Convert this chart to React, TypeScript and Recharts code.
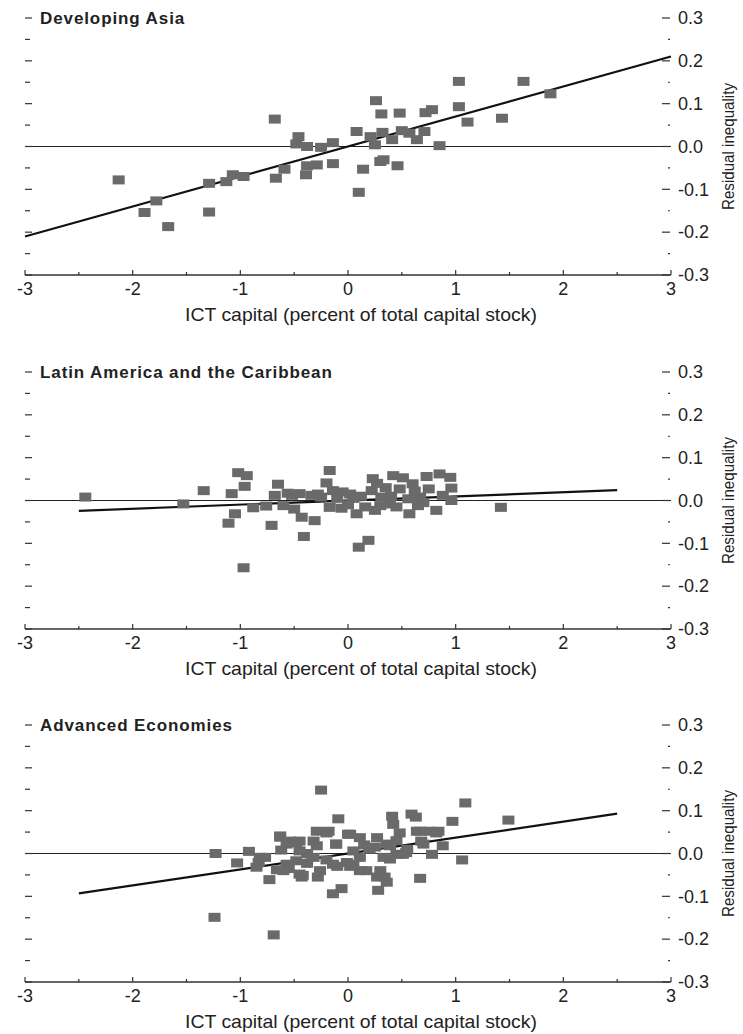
import React from 'react';
import { ScatterChart, Scatter, XAxis, YAxis, ReferenceLine } from 'recharts';

const FONT = '"Liberation Sans", Arial, sans-serif';

const PLOT_LEFT = 25;

const xTicks = [-3, -2.5, -2, -1.5, -1, -0.5, 0, 0.5, 1, 1.5, 2, 2.5, 3];
const yTicks = [-0.3, -0.25, -0.2, -0.15, -0.1, -0.05, 0, 0.05, 0.1, 0.15, 0.2, 0.25, 0.3];

const xLabel = 'ICT capital (percent of total capital stock)';
const yLabel = 'Residual inequality';

// Developing Asia
const asiaPoints: [number, number][] = [
  [-2.13, -0.078], [-1.89, -0.154], [-1.78, -0.127], [-1.67, -0.187], [-1.29, -0.153],
  [-1.29, -0.086], [-1.13, -0.082], [-1.07, -0.066], [-0.97, -0.07], [-0.68, 0.064],
  [-0.67, -0.074], [-0.59, -0.053], [-0.46, 0.023], [-0.48, 0.006], [-0.38, 0.0],
  [-0.38, -0.045], [-0.39, -0.066], [-0.29, -0.043], [-0.25, -0.002], [-0.14, 0.009],
  [-0.14, -0.04], [0.08, 0.035], [0.14, -0.053], [0.1, -0.107], [0.26, 0.107],
  [0.31, 0.076], [0.21, 0.023], [0.25, 0.004], [0.32, 0.033], [0.3, -0.035],
  [0.33, -0.031], [0.41, 0.016], [0.48, 0.078], [0.46, -0.045], [0.5, 0.037],
  [0.57, 0.031], [0.64, 0.016], [0.71, 0.035], [0.72, 0.079], [0.78, 0.086],
  [0.85, 0.002], [1.03, 0.152], [1.03, 0.093], [1.11, 0.057], [1.43, 0.066],
  [1.63, 0.152], [1.88, 0.123],
];
const asiaFit = [{ x: -3, y: -0.21 }, { x: 3, y: 0.21 }];

// Latin America and the Caribbean
const latamPoints: [number, number][] = [
  [-2.44, 0.008], [-1.53, -0.008], [-1.34, 0.023], [-1.02, 0.065], [-0.94, 0.058],
  [-0.96, 0.033], [-1.08, 0.016], [-1.05, -0.031], [-1.11, -0.053], [-0.97, -0.157],
  [-0.88, -0.017], [-0.76, -0.013], [-0.71, -0.058], [-0.65, 0.038], [-0.68, 0.012],
  [-0.6, -0.012], [-0.56, 0.017], [-0.45, 0.016], [-0.43, -0.039], [-0.41, -0.084],
  [-0.31, -0.047], [-0.34, 0.012], [-0.17, 0.07], [-0.2, 0.041], [-0.25, 0.008],
  [-0.14, 0.023], [-0.17, -0.016], [-0.06, -0.018], [0.02, 0.015], [0.08, -0.031],
  [0.1, -0.109], [0.19, -0.093], [0.23, 0.051], [0.22, 0.023], [0.25, -0.023],
  [0.31, 0.008], [0.42, 0.058], [0.51, 0.053], [0.48, 0.027], [0.39, -0.008],
  [0.57, -0.031], [0.6, 0.039], [0.67, 0.008], [0.73, 0.056], [0.85, 0.062],
  [0.95, 0.054], [0.96, 0.029], [0.96, 0.0], [0.82, -0.023], [0.75, 0.027],
  [0.56, 0.004], [1.42, -0.016], [-0.1, 0.005], [0.12, 0.01], [0.35, 0.03],
  [0.3, -0.012], [0.45, -0.015], [0.65, -0.012], [-0.5, -0.02], [0.0, -0.01],
  [-0.52, 0.012], [-0.28, 0.015], [0.05, 0.005], [0.16, -0.015], [0.4, 0.01],
  [0.7, -0.005], [0.88, 0.012], [-0.05, 0.02], [0.27, 0.04], [0.62, 0.022],
];
const latamFit = [{ x: -2.5, y: -0.024 }, { x: 2.5, y: 0.024 }];

// Advanced Economies
const advancedPoints: [number, number][] = [
  [-1.23, 0.0], [-1.24, -0.149], [-1.03, -0.022], [-0.92, 0.005], [-0.83, -0.021],
  [-0.77, -0.009], [-0.73, -0.061], [-0.69, -0.19], [-0.63, 0.038], [-0.62, 0.008],
  [-0.66, -0.038], [-0.57, -0.025], [-0.54, 0.029], [-0.48, 0.025], [-0.45, 0.006],
  [-0.45, -0.048], [-0.43, -0.055], [-0.38, -0.023], [-0.38, 0.0], [-0.32, 0.029],
  [-0.32, -0.009], [-0.29, 0.052], [-0.25, 0.148], [-0.28, -0.055], [-0.18, 0.052],
  [-0.09, 0.081], [-0.14, -0.094], [-0.06, -0.082], [-0.11, 0.022], [0.0, 0.045],
  [0.05, -0.025], [0.11, 0.037], [0.11, -0.009], [0.17, -0.04], [0.27, 0.037],
  [0.3, -0.04], [0.34, -0.055], [0.28, -0.086], [0.41, 0.087], [0.42, 0.068],
  [0.48, 0.048], [0.36, 0.022], [0.39, -0.013], [0.59, 0.092], [0.63, 0.085],
  [0.51, -0.002], [0.64, 0.052], [0.67, -0.058], [0.68, 0.029], [0.76, 0.052],
  [0.84, 0.052], [0.78, -0.002], [0.88, 0.018], [0.97, 0.075], [1.06, -0.015],
  [1.09, 0.118], [1.49, 0.078], [0.02, -0.03], [0.2, 0.01], [-0.2, -0.015],
  [0.25, 0.015], [-0.55, -0.035], [0.15, 0.02], [-0.1, -0.03], [0.45, 0.03],
  [0.55, 0.01], [-0.63, 0.041], [-0.57, 0.022], [-0.45, 0.029], [-0.2, 0.048],
  [-0.29, 0.018], [-0.48, -0.017], [-0.6, -0.04], [-0.42, -0.051], [-0.26, -0.04],
  [-0.14, -0.025], [-0.11, 0.022], [0.02, 0.045], [0.05, 0.006], [-0.01, -0.021],
  [0.11, -0.04], [0.2, 0.014], [0.33, -0.009], [0.27, -0.055], [0.36, -0.067],
  [0.39, 0.018], [0.45, -0.002], [0.54, 0.002], [0.67, 0.052], [0.82, 0.048],
  [0.7, 0.022], [-0.82, -0.009], [-0.85, -0.032],
];
const advancedFit = [{ x: -2.5, y: -0.093 }, { x: 2.5, y: 0.093 }];

const isTenth = (v: number) => Math.abs(v * 10 - Math.round(v * 10)) < 1e-6;
const isWhole = (v: number) => Math.abs(v - Math.round(v)) < 1e-6;

const XTick = (props: any) => {
  const { x, y, payload } = props;
  const major = isWhole(payload.value);
  return (
    <g>
      <line x1={x} x2={x} y1={y} y2={y - (major ? 5 : 3)} stroke="#333" strokeWidth={1.2} />
      {major && (
        <text x={x} y={y + 14} dy="0.35em" textAnchor="middle" fontSize={18} fontFamily={FONT} fill="#222">
          {String(payload.value)}
        </text>
      )}
    </g>
  );
};

// right axis draws its own labels plus the short inner ticks on both sides
const RightTick = (props: any) => {
  const { x, y, payload } = props;
  const major = isTenth(payload.value);
  return (
    <g>
      <line x1={PLOT_LEFT} x2={PLOT_LEFT + (major ? 7 : 5)} y1={y} y2={y} stroke="#333" strokeWidth={1.2} />
      <line x1={x - (major ? 9 : 3)} x2={x - 1} y1={y} y2={y} stroke="#333" strokeWidth={1.2} />
      {major && (
        <text x={x + 7} y={y} dy="0.35em" textAnchor="start" fontSize={18} fontFamily={FONT} fill="#222">
          {payload.value.toFixed(1)}
        </text>
      )}
    </g>
  );
};

const Square = (props: any) => (
  <rect x={props.cx - 6} y={props.cy - 4.5} width={12} height={9} fill="#6a6a6a" />
);

type PanelProps = {
  title: string;
  points: [number, number][];
  fit: { x: number; y: number }[];
  top: number;
};

const Panel: React.FC<PanelProps> = ({ title, points, fit, top }) => {
  const data = points.map(([x, y]) => ({ x, y }));
  return (
    <div style={{ position: 'absolute', left: 0, top, width: 743, height: 354 }}>
      <ScatterChart width={743} height={354} margin={{ top: 18, right: 0, bottom: 29, left: PLOT_LEFT }}>
        <XAxis
          type="number"
          dataKey="x"
          domain={[-3, 3]}
          ticks={xTicks}
          interval={0}
          tickSize={0}
          tickMargin={0}
          tickLine={false}
          tick={<XTick />}
          height={50}
          axisLine={{ stroke: '#333', strokeWidth: 1.3 }}
          label={(p: any) => {
            const vb = p.viewBox;
            return (
              <text
                x={vb.x + vb.width / 2 + 13}
                y={vb.y + 46}
                textAnchor="middle"
                fontSize={19}
                fontFamily={FONT}
                fill="#222"
                textLength={352}
                lengthAdjust="spacingAndGlyphs"
              >
                {xLabel}
              </text>
            );
          }}
        />
        <YAxis
          orientation="right"
          type="number"
          dataKey="y"
          domain={[-0.3, 0.3]}
          ticks={yTicks}
          interval={0}
          width={72}
          tickSize={0}
          tickMargin={0}
          tickLine={false}
          axisLine={false}
          tick={<RightTick />}
          label={(p: any) => {
            const vb = p.viewBox;
            const cx = 728;
            const cy = vb.y + vb.height / 2;
            return (
              <text
                x={cx}
                y={cy}
                transform={`rotate(-90 ${cx} ${cy})`}
                textAnchor="middle"
                dominantBaseline="central"
                fontSize={17}
                fontFamily={FONT}
                fill="#222"
                textLength={127}
                lengthAdjust="spacingAndGlyphs"
              >
                {yLabel}
              </text>
            );
          }}
        />
        <Scatter data={data} shape={<Square />} isAnimationActive={false} />
        <ReferenceLine y={0} stroke="#222" strokeWidth={1.2} />
        <ReferenceLine segment={fit} stroke="#111" strokeWidth={2.2} />
      </ScatterChart>
      <div
        style={{
          position: 'absolute',
          left: 40,
          top: 10,
          fontFamily: FONT,
          fontWeight: 'bold',
          fontSize: 17,
          lineHeight: '17px',
          letterSpacing: 0.9,
          color: '#222',
          whiteSpace: 'nowrap',
        }}
      >
        {title}
      </div>
    </div>
  );
};

export default function App() {
  return (
    <div style={{ position: 'absolute', left: 0, top: 0, width: 743, height: 1034, overflow: 'hidden', background: '#fff' }}>
      <Panel title="Developing Asia" points={asiaPoints} fit={asiaFit} top={0} />
      <Panel title="Latin America and the Caribbean" points={latamPoints} fit={latamFit} top={354} />
      <Panel title="Advanced Economies" points={advancedPoints} fit={advancedFit} top={707} />
    </div>
  );
}
